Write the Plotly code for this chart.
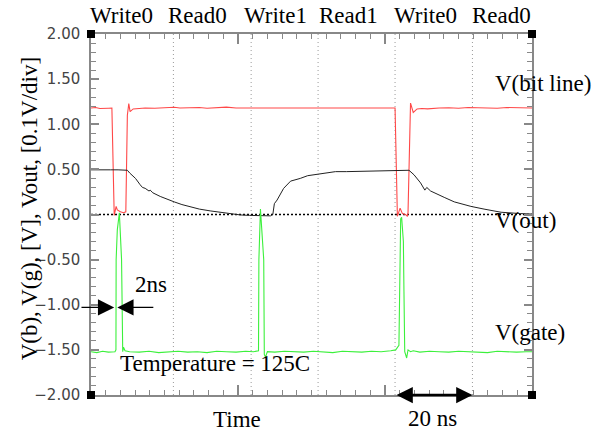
import plotly.graph_objects as go

# ---------------- data (time in ns, voltage in V) ----------------
bit_t = [0, 1.2, 2.3, 3.4, 4.5, 5.4, 5.75, 6.0, 6.5, 6.8, 7.6, 8.4, 9.0, 9.4, 9.77, 10.1, 10.9, 12.0,
         14.0, 16.5, 19.0, 21.5, 23.0, 25.5, 28.0, 30.0, 32.5, 35.0, 37.5, 40.0, 42.5, 45.0, 47.5,
         50.0, 52.5, 55.0, 57.5, 60.0, 62.5, 65.0, 67.5, 70.0, 72.5, 75.0, 77.0, 78.4, 78.6, 79.2,
         79.9, 80.5, 81.3, 81.8, 81.95, 82.6, 83.3, 84.3, 85.5, 87.0, 88.5, 90.0, 92.5, 95.0, 97.5,
         100.0, 102.5, 105.0, 107.5, 110.0, 112.5, 114.0]
bit_v = [1.18, 1.185, 1.175, 1.18, 1.178, 1.18, 0.6, -0.01, 0.09, 0.05, 0.03, 0.02, 0.03, 1.1, 1.23,
         1.14, 1.17, 1.175, 1.18, 1.178, 1.183, 1.188, 1.18, 1.182, 1.185, 1.178, 1.183, 1.19, 1.18,
         1.18, 1.185, 1.178, 1.182, 1.18, 1.185, 1.178, 1.182, 1.185, 1.178, 1.18, 1.183, 1.178,
         1.182, 1.18, 1.185, 1.18, 1.18, -0.02, 0.07, 0.01, 0.0, -0.02, 0.02, 1.235, 1.13, 1.17,
         1.175, 1.17, 1.178, 1.18, 1.182, 1.178, 1.185, 1.18, 1.182, 1.178, 1.185, 1.18, 1.183, 1.18]

out_t = [0, 3, 5, 7, 8, 9.4, 10.0, 10.9, 11.5, 12.7, 13.3, 14.0, 15.0, 15.3, 16.0, 17.9, 19.5, 21.5,
         23.5, 25.6, 28.0, 30.8, 33.0, 36.0, 38.6, 41.0, 43.8, 46.4, 47.0, 47.4, 48.1, 49.8, 51.6,
         53.6, 54.1, 56.0, 58.8, 61.0, 63.2, 66.0, 69.7, 72.0, 75.0, 78.8, 82.2, 83.5, 85.2, 86.3,
         86.8, 87.8, 89.6, 91.3, 93.9, 96.0, 98.2, 101.6, 106.0, 111.1, 114.0]
out_v = [0.495, 0.50, 0.495, 0.495, 0.49, 0.49, 0.46, 0.42, 0.40, 0.33, 0.30, 0.29, 0.26, 0.27, 0.24,
         0.20, 0.17, 0.14, 0.11, 0.085, 0.06, 0.04, 0.025, 0.01, -0.005, -0.01, -0.01, -0.015, 0.0,
         0.12, 0.16, 0.29, 0.37, 0.39, 0.40, 0.43, 0.45, 0.465, 0.475, 0.475, 0.48, 0.48, 0.485,
         0.49, 0.49, 0.44, 0.35, 0.27, 0.30, 0.26, 0.22, 0.19, 0.14, 0.115, 0.09, 0.06, 0.025, 0.01,
         0.005]

gate_t = [0, 1.5, 3.0, 4.5, 6.2, 6.45, 6.5, 6.8, 7.33, 7.6, 7.9, 8.2, 8.4, 8.8, 10.0, 12.5, 15.0,
          17.5, 20.0, 22.5, 25.0, 27.5, 30.0, 32.5, 35.0, 37.5, 40.0, 42.0, 43.3, 43.4, 43.8, 44.65,
          44.8, 45.1, 45.6, 47.5, 50.0, 52.5, 55.0, 57.5, 60.0, 62.5, 65.0, 67.5, 70.0, 72.5, 75.0,
          77.5, 78.76, 79.6, 79.87, 80.05, 80.3, 80.75, 80.9, 81.1, 81.6, 81.95, 82.6, 83.3, 85.0,
          87.5, 90.0, 92.5, 95.0, 97.5, 100.0, 102.5, 105.0, 107.5, 110.0, 112.5, 114.0]
gate_v = [-1.52, -1.53, -1.515, -1.525, -1.52, -1.50, -0.5, -0.17, 0.02, -0.2, -0.5, -1.52, -1.47,
          -1.51, -1.52, -1.525, -1.515, -1.53, -1.52, -1.515, -1.525, -1.52, -1.53, -1.515, -1.52,
          -1.525, -1.515, -1.52, -1.51, -0.5, 0.06, -0.5, -1.55, -1.58, -1.52, -1.525, -1.515,
          -1.52, -1.525, -1.515, -1.52, -1.53, -1.515, -1.52, -1.525, -1.515, -1.52, -1.51, -1.50,
          -1.45, -0.1, -0.05, -0.03, -0.3, -0.85, -1.52, -1.59, -1.50, -1.52, -1.51, -1.525, -1.515,
          -1.52, -1.525, -1.515, -1.52, -1.525, -1.53, -1.515, -1.52, -1.525, -1.52, -1.52]

phase_times = [21.3, 41.4, 58.7, 78.6, 98.6]
phase_labels = ["Write0", "Read0", "Write1", "Read1", "Write0", "Read0"]
phase_label_t = [7.8, 27.5, 47.7, 66.6, 86.5, 106.0]

y_ticks = [2.0, 1.5, 1.0, 0.5, 0.0, -0.5, -1.0, -1.5, -2.0]
x_major = [0, 38, 76, 114]

SERIF = "Liberation Serif, Times New Roman, serif"
RED = "#ff4848"
GREEN = "#3cf03c"
FS = 23

fig = go.Figure()
fig.add_trace(go.Scatter(x=bit_t, y=bit_v, mode="lines", line=dict(color=RED, width=1.1), name="V(bit line)"))
fig.add_trace(go.Scatter(x=out_t, y=out_v, mode="lines", line=dict(color="#222222", width=1), name="V(out)"))
fig.add_trace(go.Scatter(x=gate_t, y=gate_v, mode="lines", line=dict(color=GREEN, width=1.1), name="V(gate)"))

shapes = []
for t in phase_times:
    shapes.append(dict(type="line", xref="x", yref="paper", x0=t, x1=t, y0=0, y1=1,
                       line=dict(color="#9a9a9a", width=1, dash="1px,3px"), layer="below"))
shapes.append(dict(type="line", xref="paper", yref="y", x0=0, x1=1, y0=0, y1=0,
                   line=dict(color="#000000", width=1.5, dash="2px,2px"), layer="below"))
for cx in (0, 1):
    for cy in (0, 1):
        shapes.append(dict(type="rect", xref="paper", yref="paper", xsizemode="pixel", ysizemode="pixel",
                           xanchor=cx, yanchor=cy, x0=-4, x1=4, y0=-4, y1=4,
                           fillcolor="black", line=dict(width=0)))

ann = []
for lab, t in zip(phase_labels, phase_label_t):
    ann.append(dict(x=t, y=1.052, xref="x", yref="paper", text=lab, showarrow=False,
                    font=dict(family=SERIF, size=FS, color="black"), xanchor="center", yanchor="middle"))
right_labels = [("V(bit line)", 1.45), ("V(out)", -0.07), ("V(gate)", -1.31)]
for txt, v in right_labels:
    ann.append(dict(x=103.9, y=v, xref="x", yref="y", text=txt, showarrow=False,
                    font=dict(family=SERIF, size=FS, color="black"), xanchor="left", yanchor="middle"))
ann.append(dict(x=15.5, y=-0.78, xref="x", yref="y", text="2ns", showarrow=False,
                font=dict(family=SERIF, size=FS, color="black")))
ann.append(dict(x=7.0, y=-1.65, xref="x", yref="y", text="Temperature = 125C", showarrow=False,
                font=dict(family=SERIF, size=FS, color="black"), xanchor="left"))
ann.append(dict(x=37.8, y=-0.069, xref="x", yref="paper", text="Time", showarrow=False,
                font=dict(family=SERIF, size=FS, color="black"), yanchor="middle"))
ann.append(dict(x=88.3, y=-0.066, xref="x", yref="paper", text="20 ns", showarrow=False,
                font=dict(family=SERIF, size=FS, color="black"), yanchor="middle"))
ann.append(dict(x=-0.14, y=0.515, xref="paper", yref="paper", text="V(b), V(g), [V], Vout, [0.1V/div]",
                showarrow=False, textangle=-90, xanchor="center", yanchor="middle",
                font=dict(family=SERIF, size=FS, color="black")))
# 2ns arrows
ann.append(dict(x=6.0, y=-1.03, ax=-2.85, ay=-1.03, xref="x", yref="y", axref="x", ayref="y", text="",
                showarrow=True, arrowhead=2, arrowsize=2.5, arrowwidth=1.3, arrowcolor="black"))
ann.append(dict(x=6.8, y=-1.03, ax=16.5, ay=-1.03, xref="x", yref="y", axref="x", ayref="y", text="",
                showarrow=True, arrowhead=2, arrowsize=2.5, arrowwidth=1.3, arrowcolor="black"))
# 20 ns double arrow
ann.append(dict(x=98.6, y=-2.0, ax=78.6, ay=-2.0, xref="x", yref="y", axref="x", ayref="y", text="",
                showarrow=True, arrowhead=2, startarrowhead=2, arrowside="end+start",
                arrowsize=1.3, startarrowsize=1.3, arrowwidth=2.5, arrowcolor="black"))

fig.update_layout(
    width=601, height=431,
    margin=dict(l=91, r=69, t=34, b=36),
    paper_bgcolor="white", plot_bgcolor="white",
    showlegend=False,
    shapes=shapes, annotations=ann,
    xaxis=dict(range=[0, 114], showgrid=False, zeroline=False, showline=True, linecolor="#888888",
               linewidth=1.5, mirror="ticks", ticks="inside", ticklen=10, tickcolor="#888888",
               tickwidth=1.5, tickvals=x_major, showticklabels=False,
               minor=dict(dtick=3.8, tick0=0, ticks="inside", ticklen=5, tickcolor="#888888",
                          tickwidth=1.2, showgrid=False)),
    yaxis=dict(range=[-2, 2], showgrid=False, zeroline=False, showline=True, linecolor="#888888",
               linewidth=1.5, mirror="ticks", ticks="inside", ticklen=8, tickcolor="#888888",
               tickwidth=1.5, tickvals=y_ticks, tickformat=".2f", ticklabelstandoff=6,
               tickfont=dict(family="DejaVu Sans", size=15, color="#444444"),
               minor=dict(dtick=0.1, tick0=0, ticks="inside", ticklen=5, tickcolor="#888888",
                          tickwidth=1.2, showgrid=False)),
)

# remove the default 8px page margin so the 601x431 figure fills the window exactly
fig.write_html("out.html", config={"displayModeBar": False},
               post_script="document.body.style.margin='0';document.body.style.overflow='hidden';")
